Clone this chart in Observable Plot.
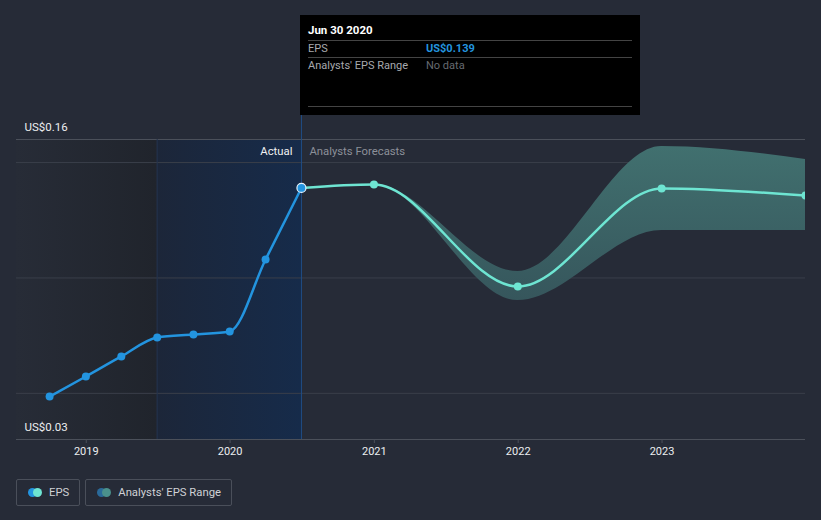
<!DOCTYPE html>
<html>
<head>
<meta charset="utf-8">
<script src="https://cdn.jsdelivr.net/npm/d3@7"></script>
<script src="https://cdn.jsdelivr.net/npm/@observablehq/plot@0.6"></script>
<style>
  html, body { margin: 0; padding: 0; background: #262b37; font-family: Roboto, "Open Sans", sans-serif; }
  #wrap { position: relative; width: 821px; height: 520px; overflow: hidden; }
  #tip { position: absolute; left: 300px; top: 15px; width: 340px; height: 100px; background: #000; box-sizing: border-box; padding: 0 8px; color: #fff; font-size: 11px; }
  #tip .row { border-bottom: 1px solid #444; display: flex; }
  #tip .title { font-weight: bold; font-size: 11.5px; height: 25px; line-height: 31px; color: #fff; }
  #tip .r2 { height: 16px; line-height: 16px; }
  #tip .r3 { height: 48px; line-height: 16px; align-items: flex-start; }
  #tip .lab { width: 118px; color: #a7a9ae; }
  #legend { position: absolute; left: 16px; top: 479px; display: flex; gap: 5px; }
  .lg { border: 1px solid #4a4f5a; border-radius: 2px; height: 27px; box-sizing: border-box; display: flex; align-items: center; padding: 0 10px 0 11px; color: #cfd1d5; font-size: 11.3px; }
  .dots { position: relative; width: 14px; height: 9px; margin-right: 7px; }
  .dots span { position: absolute; top: 0; width: 9px; height: 9px; border-radius: 50%; }
</style>
</head>
<body>
<div id="wrap">
  <div id="chart"></div>
  <div id="tip">
    <div class="row title">Jun 30 2020</div>
    <div class="row r2"><span class="lab">EPS</span><span style="color:#2394df;font-weight:bold">US$0.139</span></div>
    <div class="row r3"><span class="lab">Analysts' EPS Range</span><span style="color:#666a70">No data</span></div>
  </div>
  <div id="legend">
    <div class="lg"><div class="dots"><span style="left:0;background:#2394df"></span><span style="left:5px;background:#6ee5d2"></span></div>EPS</div>
    <div class="lg"><div class="dots"><span style="left:0;background:#2a6a9a"></span><span style="left:5px;background:#4a918c"></span></div>Analysts' EPS Range</div>
  </div>
</div>
<script>
const actualDates = ["2018-09-30","2018-12-31","2019-03-31","2019-06-30","2019-09-30","2019-12-31","2020-03-31","2020-06-30"];
const actualEps = [0.0486,0.0573,0.066,0.0742,0.0755,0.0768,0.108,0.139];
const forecastDates = ["2020-06-30","2020-12-31","2021-12-31","2022-12-31","2023-12-31"];
const forecastEps = [0.139,0.1405,0.0963,0.1388,0.1357];
const rangeDates = ["2020-06-30","2020-12-31","2021-12-31","2022-12-31","2023-12-31"];
const rangeLow = [0.139,0.1405,0.0902,0.1206,0.1206];
const rangeHigh = [0.139,0.1405,0.1028,0.157,0.1513];
const yTickLabels = [{v: 0.16, t: "US$0.16"}, {v: 0.03, t: "US$0.03"}];
const gridValues = [0.05, 0.10, 0.15];
const xTicks = ["2019-01-01","2020-01-01","2021-01-01","2022-01-01","2023-01-01"];
const xDomain = ["2018-07-08","2023-12-31"];
const yDomain = [0.03, 0.16];
const pastStart = "2018-07-08", pastEnd = "2019-06-30", lastYearEnd = "2020-06-30";
const tipTop = 0.1705;

const P = s => new Date(s + "T00:00:00Z");
const actual = actualDates.map((d, i) => ({date: P(d), eps: actualEps[i]}));
const forecast = forecastDates.map((d, i) => ({date: P(d), eps: forecastEps[i]}));
const range = rangeDates.map((d, i) => ({date: P(d), lo: rangeLow[i], hi: rangeHigh[i]}));

const defs = () => {
  const d = d3.create("svg:defs");
  const g1 = d.append("linearGradient").attr("id", "gPast").attr("x1", 0).attr("x2", 1).attr("y1", 0).attr("y2", 0);
  g1.append("stop").attr("offset", "0%").attr("stop-color", "#272c37");
  g1.append("stop").attr("offset", "100%").attr("stop-color", "#20242c");
  const g2 = d.append("linearGradient").attr("id", "gLast").attr("x1", 0).attr("x2", 1).attr("y1", 0).attr("y2", 0);
  g2.append("stop").attr("offset", "0%").attr("stop-color", "#1c2639");
  g2.append("stop").attr("offset", "100%").attr("stop-color", "#162b4a");
  const g3 = d.append("linearGradient").attr("id", "gBand").attr("x1", 0).attr("x2", 0).attr("y1", 0).attr("y2", 1);
  g3.append("stop").attr("offset", "0%").attr("stop-color", "#41706f");
  g3.append("stop").attr("offset", "100%").attr("stop-color", "#36565c");
  return d.node();
};

const chart = Plot.plot({
  width: 821,
  height: 470,
  marginLeft: 16,
  marginRight: 16,
  marginTop: 139,
  marginBottom: 31,
  style: {background: "transparent", color: "#e6e7e9", fontFamily: "Roboto, sans-serif", fontSize: "11px"},
  x: {type: "utc", domain: xDomain.map(P), axis: null},
  y: {domain: yDomain, axis: null},
  marks: [
    defs,
    Plot.rect([0], {x1: P(pastStart), x2: P(pastEnd), y1: yDomain[0], y2: yDomain[1], fill: "url(#gPast)"}),
    Plot.rect([0], {x1: P(pastEnd), x2: P(lastYearEnd), y1: yDomain[0], y2: yDomain[1], fill: "url(#gLast)"}),
    Plot.ruleY(gridValues, {stroke: "#3a3f4a", strokeWidth: 1}),
    Plot.ruleY([yDomain[1], yDomain[0]], {stroke: "#4b505a", strokeWidth: 1}),
    Plot.ruleX([P(pastEnd)], {y1: yDomain[0], y2: yDomain[1], stroke: "#24334d", strokeWidth: 1}),
    Plot.ruleX([P(lastYearEnd)], {y1: yDomain[0], y2: tipTop, stroke: "#1f4d85", strokeWidth: 1}),
    Plot.areaY(range, {x: "date", y1: "lo", y2: "hi", curve: "monotone-x", fill: "url(#gBand)", clip: true}),
    Plot.line(actual, {x: "date", y: "eps", curve: "monotone-x", stroke: "#2394df", strokeWidth: 2.5}),
    Plot.line(forecast, {x: "date", y: "eps", curve: "monotone-x", stroke: "#6ee5d2", strokeWidth: 2.5, clip: true}),
    Plot.dot(actual.slice(0, -1), {x: "date", y: "eps", r: 4, fill: "#2394df"}),
    Plot.dot(forecast.slice(1), {x: "date", y: "eps", r: 4, fill: "#6ee5d2", clip: true}),
    Plot.dot(actual.slice(-1), {x: "date", y: "eps", r: 4.5, fill: "#2394df", stroke: "#e8f2fb", strokeWidth: 1.2}),
    Plot.text([0], {x: P(lastYearEnd), y: yDomain[1], text: () => "Actual", dx: -9, dy: 12, textAnchor: "end", fill: "#f0f1f2", fontSize: 11.3}),
    Plot.text([0], {x: P(lastYearEnd), y: yDomain[1], text: () => "Analysts Forecasts", dx: 8, dy: 12, textAnchor: "start", fill: "#8c9099", fontSize: 11.3}),
    Plot.text(yTickLabels, {x: P(xDomain[0]), y: "v", text: "t", dx: 8, dy: -12, textAnchor: "start", fill: "#eceef0", fontSize: 11.5}),
    Plot.axisX(xTicks.map(P), {tickFormat: d3.utcFormat("%Y"), tickSize: 4, tickPadding: 4, stroke: "#4b505a", fill: "#eceef0", fontSize: 11})
  ]
});
document.getElementById("chart").appendChild(chart);
</script>
</body>
</html>
